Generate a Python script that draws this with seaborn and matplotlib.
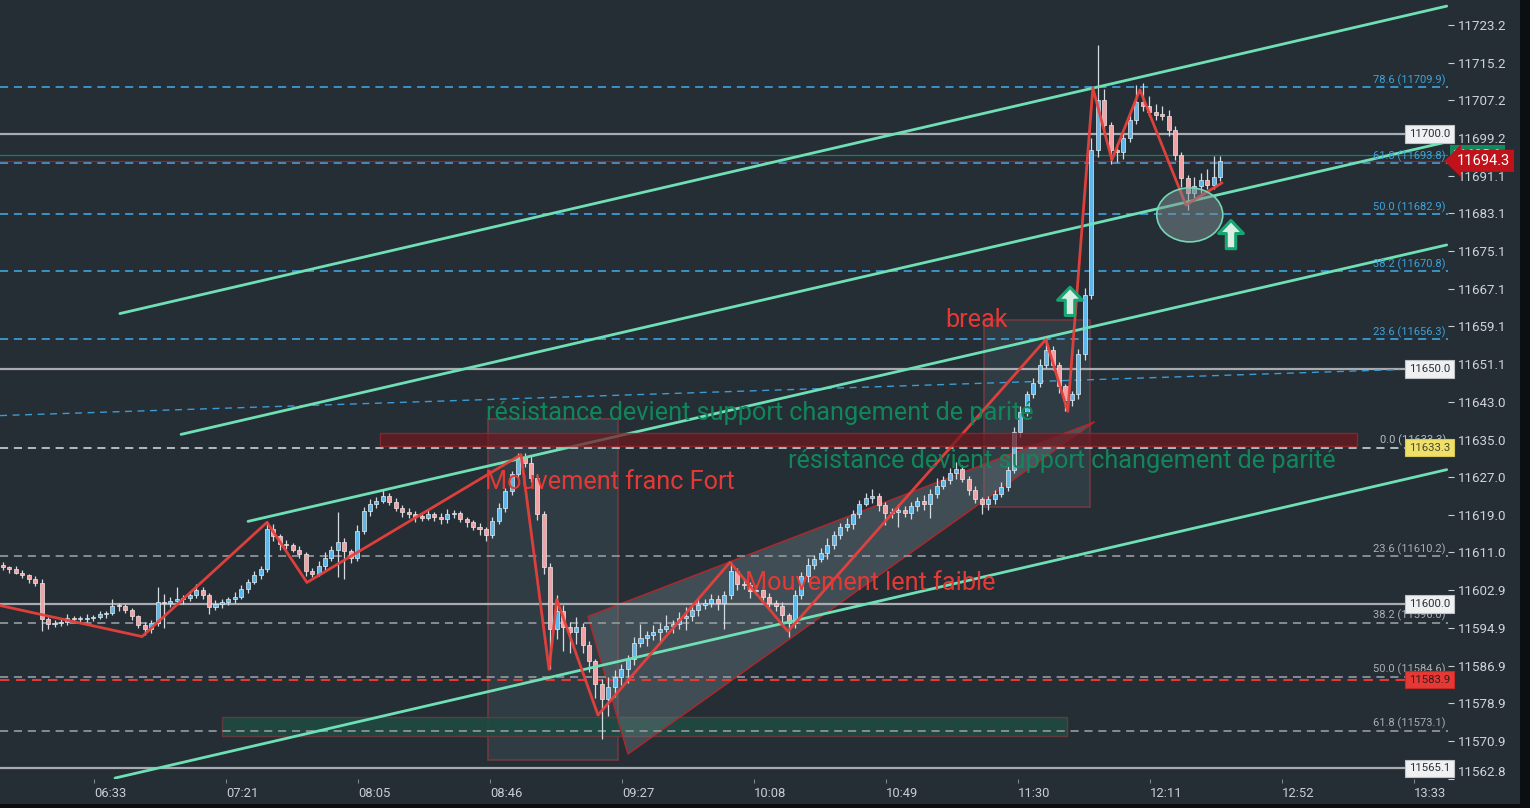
import numpy as np
import pandas as pd
import matplotlib
matplotlib.use("Agg")
import matplotlib.pyplot as plt
import matplotlib.transforms as mtransforms
from matplotlib.patches import Rectangle, Polygon, Ellipse
import seaborn as sns

# ---------------- data ----------------
bar_minutes = 2
first_open = 11608.3
closes = [
    11607.8, 11607.4, 11606.7, 11606.1, 11605.3, 11604.4, 11596.8, 11595.7, 11595.9, 11596.3,
    11597.0, 11596.8, 11596.8, 11597.0, 11597.2, 11597.8, 11598.2, 11599.7, 11599.5, 11598.7,
    11597.4, 11595.5, 11594.6, 11595.9, 11600.4, 11600.2, 11600.6, 11601.0, 11601.2, 11601.9,
    11603.1, 11601.9, 11599.3, 11600.0, 11600.4, 11601.0, 11601.6, 11603.3, 11604.8, 11606.1,
    11607.4, 11615.9, 11614.4, 11612.7, 11612.5, 11611.6, 11610.6, 11607.0, 11606.5, 11608.2,
    11609.9, 11611.6, 11613.3, 11611.2, 11609.9, 11615.5, 11619.7, 11621.2, 11622.0, 11623.1,
    11621.8, 11620.5, 11619.5, 11619.1, 11618.6, 11618.4, 11619.1, 11618.6, 11618.0, 11619.1,
    11619.3, 11618.0, 11617.4, 11616.5, 11615.9, 11614.8, 11617.6, 11620.5, 11624.0, 11627.6,
    11631.2, 11630.1, 11626.9, 11619.1, 11607.8, 11594.6, 11598.5, 11595.1, 11594.0, 11595.1,
    11591.4, 11587.8, 11583.0, 11579.8, 11582.3, 11584.4, 11586.1, 11588.3, 11591.7, 11592.7,
    11593.4, 11594.0, 11594.8, 11595.3, 11595.7, 11597.0, 11597.4, 11598.7, 11599.9, 11600.2,
    11601.0, 11600.2, 11601.9, 11607.0, 11604.2, 11604.0, 11602.7, 11602.9, 11601.6, 11600.2,
    11599.7, 11597.6, 11595.9, 11601.9, 11605.9, 11608.4, 11609.7, 11610.8, 11612.5, 11614.8,
    11616.3, 11617.0, 11619.1, 11621.4, 11622.5, 11623.1, 11621.0, 11619.3, 11619.5, 11620.1,
    11619.3, 11620.8, 11622.0, 11621.4, 11623.5, 11625.2, 11626.5, 11627.8, 11628.8, 11626.7,
    11624.2, 11622.3, 11621.2, 11622.3, 11623.5, 11625.0, 11628.6, 11636.7, 11640.9, 11644.6,
    11647.1, 11650.9, 11654.1, 11650.9, 11646.3, 11643.5, 11644.6, 11653.1, 11665.8, 11696.6,
    11707.3, 11701.9, 11696.6, 11696.2, 11699.2, 11703.0, 11706.8, 11706.0, 11704.7, 11704.1,
    11703.9, 11700.9, 11695.6, 11690.7, 11687.5, 11689.0, 11690.2, 11689.2, 11690.9, 11694.3,
]
upper_wicks = [
    0.6, 0.4, 0.8, 0.5, 0.3, 0.6, 0.9, 0.4, 0.7, 0.5,
    0.8, 0.4, 0.6, 1.0, 0.5, 0.7, 0.4, 1.3, 0.6, 0.5,
    0.4, 0.3, 0.6, 0.8, 3.2, 1.7, 0.9, 2.6, 0.7, 0.8,
    1.1, 0.6, 0.5, 0.8, 0.6, 0.5, 0.9, 0.7, 0.6, 1.0,
    0.8, 1.7, 1.2, 0.6, 0.9, 0.5, 0.7, 0.4, 0.6, 0.9,
    1.1, 0.8, 6.2, 0.7, 0.5, 1.4, 0.9, 1.2, 0.8, 1.3,
    0.6, 0.8, 0.5, 0.9, 0.7, 0.6, 1.0, 0.5, 0.8, 1.2,
    0.7, 0.5, 0.6, 0.4, 0.8, 0.5, 0.9, 1.1, 0.8, 0.7,
    1.0, 0.9, 1.3, 0.8, 0.6, 0.9, 3.5, 1.4, 1.0, 2.2,
    0.8, 0.7, 0.5, 1.0, 2.1, 1.5, 1.2, 0.9, 1.4, 3.0,
    0.8, 1.6, 1.1, 2.4, 0.9, 1.3, 2.0, 1.1, 1.5, 0.8,
    1.2, 1.0, 0.9, 1.9, 0.7, 1.3, 0.8, 1.1, 0.9, 0.7,
    0.6, 0.8, 0.5, 1.1, 0.9, 1.4, 0.7, 1.2, 1.5, 0.8,
    1.0, 1.3, 0.9, 0.7, 1.1, 1.3, 0.6, 0.8, 0.9, 1.2,
    0.7, 1.0, 0.8, 1.3, 0.9, 1.6, 0.8, 1.1, 1.5, 0.7,
    0.6, 0.9, 0.5, 0.8, 0.7, 1.0, 1.4, 0.9, 1.2, 0.8,
    1.1, 1.3, 2.6, 0.9, 0.7, 0.6, 0.8, 1.2, 1.5, 2.5,
    11.7, 2.2, 0.7, 1.5, 1.0, 1.4, 3.7, 4.1, 2.0, 1.6,
    1.8, 1.2, 0.8, 0.6, 0.5, 1.9, 1.4, 2.3, 4.5, 1.0,
]
lower_wicks = [
    0.5, 0.7, 0.4, 0.6, 0.8, 0.5, 2.6, 0.9, 0.6, 0.5,
    0.7, 0.4, 0.8, 0.5, 0.6, 0.4, 0.7, 0.5, 0.9, 0.6,
    0.8, 0.6, 1.2, 0.7, 0.6, 5.2, 0.8, 0.5, 0.9, 0.6,
    0.7, 0.9, 1.5, 0.6, 0.8, 0.5, 0.7, 0.6, 0.9, 0.5,
    0.7, 0.6, 0.9, 1.2, 0.8, 0.6, 0.7, 1.0, 0.8, 0.6,
    0.9, 0.7, 5.9, 5.9, 1.1, 0.8, 0.6, 0.9, 0.7, 0.5,
    0.8, 0.6, 0.9, 0.7, 1.1, 0.8, 0.6, 0.9, 1.0, 0.7,
    0.8, 0.6, 0.9, 0.7, 1.2, 1.4, 0.8, 0.6, 0.9, 0.7,
    0.8, 1.0, 0.9, 1.2, 1.5, 8.5, 2.0, 5.0, 4.5, 2.5,
    1.8, 2.2, 3.0, 8.5, 3.5, 2.0, 1.5, 2.8, 1.2, 0.9,
    1.6, 1.0, 2.3, 0.8, 1.4, 1.1, 2.6, 0.9, 1.2, 1.0,
    0.8, 1.5, 5.6, 0.9, 1.1, 0.7, 1.3, 0.8, 1.0, 0.9,
    1.2, 1.6, 3.0, 1.0, 0.8, 1.2, 0.9, 0.7, 1.1, 0.8,
    0.9, 0.7, 1.0, 0.8, 0.6, 0.9, 1.2, 2.4, 1.0, 3.0,
    0.8, 1.1, 0.9, 1.3, 3.0, 1.0, 0.8, 0.9, 1.2, 0.7,
    1.0, 0.8, 2.0, 1.1, 0.9, 0.7, 1.0, 0.8, 1.2, 0.9,
    0.8, 1.0, 0.7, 1.1, 1.3, 2.5, 1.4, 0.9, 1.2, 1.0,
    1.5, 2.0, 3.0, 2.2, 1.5, 1.0, 0.9, 1.2, 0.8, 1.1,
    0.9, 1.3, 1.1, 2.0, 3.6, 1.2, 1.5, 0.9, 1.0, 0.8,
]

time_tick_pos = [28.3, 69.3, 110.3, 151.3, 192.3, 233.3, 274.3, 315.3, 356.3, 397.3, 438.3]
time_tick_labels = ["06:33", "07:21", "08:05", "08:46", "09:27", "10:08",
                    "10:49", "11:30", "12:11", "12:52", "13:33"]
price_ticks = [11723.2, 11715.2, 11707.2, 11699.2, 11691.1, 11683.1, 11675.1, 11667.1,
               11659.1, 11651.1, 11643.0, 11635.0, 11627.0, 11619.0, 11611.0, 11602.9,
               11594.9, 11586.9, 11578.9, 11570.9, 11562.8]

# zigzag swing points (time in minutes, price)
zigzag_t = [-0.9, 43.2, 82.0, 94.4, 160.9, 169.6, 172.0, 184.8, 225.8, 243.8,
            323.9, 330.7, 338.5, 344.4, 353.1, 367.4, 378.6]
zigzag_p = [11599.7, 11593.1, 11617.4, 11604.6, 11631.8, 11586.1, 11601.0, 11576.4, 11608.9, 11594.2,
            11656.3, 11641.0, 11709.8, 11694.5, 11709.4, 11684.9, 11689.6]

# parallel channel lines: start / end
channel_t0 = [36.3, 55.3, 76.1, 34.8]
channel_p0 = [11661.8, 11636.1, 11617.6, 11563.0]
channel_t1 = [448.4, 448.4, 448.4, 448.4]
channel_p1 = [11727.2, 11698.3, 11676.4, 11628.6]

# sloped blue dashed line
slope_t = [-0.9, 433.9]
slope_p = [11640.1, 11649.9]

fib_blue_levels = [11709.9, 11693.8, 11682.9, 11670.8, 11656.3]
fib_blue_ratios = ["78.6", "61.8", "50.0", "38.2", "23.6"]
fib_grey_levels = [11610.2, 11596.0, 11584.6, 11573.1]
fib_grey_ratios = ["23.6", "38.2", "50.0", "61.8"]
fib_zero_level = 11633.3
round_levels = [11700.0, 11650.0, 11600.0, 11565.1]
red_dashed_level = 11583.9
last_green_price = 11695.6
last_price = 11694.3

# boxes: (t_left, t_right, p_low, p_high)
box_fast = [150.6, 191.0, 11566.8, 11639.3]
box_break = [304.7, 337.6, 11620.6, 11660.5]
band_red = [117.1, 420.5, 11633.7, 11636.5]
band_green = [68.0, 330.4, 11571.9, 11575.9]
wedge_t = [181.7, 194.1, 339.1]
wedge_p = [11597.4, 11568.1, 11638.8]
ellipse_center = (368.6, 11682.8)
ellipse_size = (20.5, 11.5)
arrows_t = [331.4, 381.4]
arrows_p0 = [11661.4, 11675.6]
arrows_p1 = [11667.4, 11681.6]

labels_red = [("break", 292.5, 11660.5), ("Mouvement franc Fort", 149.7, 11625.9),
              ("Mouvement lent faible", 230.4, 11604.4)]
labels_green = [("résistance devient support changement de parité", 150.0, 11640.7),
                ("résistance devient support changement de parité", 243.8, 11630.5)]

# ---------------- style ----------------
BG = "#252e35"
sns.set_theme(style="dark", rc={"axes.facecolor": BG, "figure.facecolor": BG})
plt.rcParams["font.family"] = ["Roboto", "DejaVu Sans"]

fig = plt.figure(figsize=(15.3, 8.08), dpi=100)
fig.patch.set_facecolor(BG)
ax = fig.add_axes([0, 29 / 808, 1448 / 1530, 779 / 808])
ax.set_facecolor(BG)
for s in ax.spines.values():
    s.set_visible(False)
ax.grid(False)
ax.set_xlim(-0.93, 448.8)
ax.set_ylim(11562.96, 11728.5)

# ---- background boxes ----
ax.add_patch(Rectangle((box_fast[0], box_fast[2]), box_fast[1] - box_fast[0], box_fast[3] - box_fast[2],
                       facecolor="#4a5a62", alpha=0.32, edgecolor="none", zorder=1))
ax.add_patch(Rectangle((box_fast[0], box_fast[2]), box_fast[1] - box_fast[0], box_fast[3] - box_fast[2],
                       facecolor="none", edgecolor="#6e3a40", lw=1.2, zorder=1.1))
ax.add_patch(Rectangle((box_break[0], box_break[2]), box_break[1] - box_break[0], box_break[3] - box_break[2],
                       facecolor="#4a5a62", alpha=0.32, edgecolor="none", zorder=1))
ax.add_patch(Rectangle((box_break[0], box_break[2]), box_break[1] - box_break[0], box_break[3] - box_break[2],
                       facecolor="none", edgecolor="#6e3a40", lw=1.2, zorder=1.1))
ax.add_patch(Rectangle((band_green[0], band_green[2]), band_green[1] - band_green[0], band_green[3] - band_green[2],
                       facecolor="#1f4a42", alpha=0.9, edgecolor="#6a3a3e", lw=1.0, zorder=1.2))
ax.add_patch(Polygon(list(zip(wedge_t, wedge_p)), closed=True, facecolor="#6a7a80", alpha=0.42,
                     edgecolor="none", zorder=1.3))
ax.add_patch(Polygon(list(zip(wedge_t, wedge_p)), closed=True, facecolor="none",
                     edgecolor="#b3262a", lw=1.0, zorder=1.4))

# ---- horizontal levels ----
dash = (0, (4.5, 3.2))
for lv in fib_blue_levels:
    ax.axhline(lv, color="#3d9bd3", lw=1.3, ls=dash, zorder=2)
for lv in fib_grey_levels:
    ax.axhline(lv, color="#8d9399", lw=1.3, ls=dash, zorder=2)
ax.axhline(fib_zero_level, color="#b9c8cf", lw=1.3, ls=dash, zorder=2)
for lv in round_levels:
    ax.axhline(lv, color="#a8acb0", lw=1.6, zorder=2)
ax.axhline(red_dashed_level, color="#e53935", lw=1.5, ls=dash, zorder=2)
ax.axhline(last_green_price, color="#17805a", lw=0.9, zorder=2)
ax.axhline(last_price, color="#b3161b", lw=0.9, zorder=2)
sns.lineplot(x=slope_t, y=slope_p, ax=ax, color="#3d9bd3", lw=1.0, linestyle=(0, (5, 4)), zorder=2)

# ---- candles ----
c = np.array(closes)
o = np.array([first_open] + closes[:-1])
hw = np.array(upper_wicks)
lw_ = np.array(lower_wicks)
t = np.arange(len(c)) * bar_minutes
hi = np.maximum(o, c) + hw
lo = np.minimum(o, c) - lw_
up = c >= o
body = np.where(np.abs(c - o) < 0.25, 0.25, np.abs(c - o))
bottom = np.minimum(o, c)
ax.vlines(t, lo, hi, color="#d4dbe0", lw=0.9, zorder=3)
ax.bar(t[up], body[up], bottom=bottom[up], width=1.25, color="#5db7e8",
       edgecolor="#e3edf3", linewidth=0.5, zorder=4)
ax.bar(t[~up], body[~up], bottom=bottom[~up], width=1.25, color="#f0a2a4",
       edgecolor="#f3e6e8", linewidth=0.5, zorder=4)

# ---- channel lines ----
ch = pd.DataFrame({
    "t": channel_t0 + channel_t1,
    "p": channel_p0 + channel_p1,
    "line": list(range(4)) * 2,
})
sns.lineplot(data=ch, x="t", y="p", units="line", estimator=None, ax=ax,
             color="#6fe0b6", lw=2.0, zorder=5)

# ---- zigzag ----
zz = pd.DataFrame({"t": zigzag_t, "p": zigzag_p})
sns.lineplot(data=zz, x="t", y="p", sort=False, estimator=None, ax=ax,
             color="#e8403c", lw=2.0, alpha=0.95, zorder=6)

# ---- red band (on top of lines) ----
ax.add_patch(Rectangle((band_red[0], band_red[2]), band_red[1] - band_red[0], band_red[3] - band_red[2],
                       facecolor="#70161e", alpha=0.7, edgecolor="#a3262c", lw=1.0, zorder=6.5))

# ---- ellipse ----
ax.add_patch(Ellipse(ellipse_center, ellipse_size[0], ellipse_size[1], facecolor="#7c8c92",
                     alpha=0.5, edgecolor="none", zorder=7))
ax.add_patch(Ellipse(ellipse_center, ellipse_size[0], ellipse_size[1], facecolor="none",
                     edgecolor="#76d6b4", lw=1.2, zorder=7.1))

# ---- arrows ----
for at, a0, a1 in zip(arrows_t, arrows_p0, arrows_p1):
    ax.annotate("", xy=(at, a1), xytext=(at, a0),
                arrowprops=dict(arrowstyle="simple,head_length=0.55,head_width=1.05,tail_width=0.4",
                                fc="#d9efe6", ec="#16a672", lw=2.2, mutation_scale=17,
                                shrinkA=0, shrinkB=0), zorder=8)

# ---- text annotations ----
for txt, tx, py in labels_green:
    ax.text(tx, py, txt, color="#11865a", fontsize=18.2, ha="left", va="center", zorder=9)
for txt, tx, py in labels_red:
    ax.text(tx, py, txt, color="#e53935", fontsize=18.2, ha="left", va="center", zorder=9)

# ---- fib labels ----
bt = mtransforms.blended_transform_factory(ax.transAxes, ax.transData)
up_off = mtransforms.offset_copy(bt, fig=fig, x=0, y=5.2, units="points")
for lv, r in zip(fib_blue_levels, fib_blue_ratios):
    ax.text(0.9985, lv, f"{r} ({lv:.1f})", transform=up_off, ha="right", va="center",
            fontsize=8.0, color="#3fa2da", zorder=9)
for lv, r in zip(fib_grey_levels, fib_grey_ratios):
    ax.text(0.9985, lv, f"{r} ({lv:.1f})", transform=up_off, ha="right", va="center",
            fontsize=8.0, color="#a9aeb3", zorder=9)
ax.text(0.9985, fib_zero_level, f"0.0 ({fib_zero_level:.1f})", transform=up_off, ha="right",
        va="center", fontsize=8.0, color="#aebfca", zorder=9)

# ---- right edge level boxes ----
box_kw = dict(transform=bt, ha="right", va="center", fontsize=8.2, zorder=10, clip_on=False)
for lv in round_levels:
    ax.text(1.0015, lv, f"{lv:.1f}", color="#2a2e33",
            bbox=dict(boxstyle="square,pad=0.32", fc="#eef0f2", ec="#bfc3c7", lw=0.8), **box_kw)
ax.text(1.0015, fib_zero_level, f"{fib_zero_level:.1f}", color="#4a4a30",
        bbox=dict(boxstyle="square,pad=0.32", fc="#efe06a", ec="#d8c850", lw=0.8), **box_kw)
ax.text(1.0015, red_dashed_level, f"{red_dashed_level:.1f}", color="#3a1a1a",
        bbox=dict(boxstyle="square,pad=0.32", fc="#e53935", ec="#c62828", lw=0.8), **box_kw)

# ---- price axis ----
ax.yaxis.tick_right()
ax.set_yticks(price_ticks)
ax.set_yticklabels([f"{v:.1f}" for v in price_ticks])
ax.tick_params(axis="y", colors="#c9ced3", labelcolor="#d0d4d8", labelsize=9.6,
               length=4, width=0.8, pad=3, right=True, left=False)
ax.set_xticks(time_tick_pos)
ax.set_xticklabels(time_tick_labels, ha="left")
ax.tick_params(axis="x", colors="#80868c", labelcolor="#c9ced3", labelsize=9.4,
               length=3, width=0.8, pad=3, bottom=True)
for lbl in ax.get_yticklabels():
    if lbl.get_text() == "11562.8":
        lbl.set_va("bottom")
ax.set_xlabel("")
ax.set_ylabel("")

# last price tags on the price scale
ax.text(1.0035, last_green_price, f"{last_green_price:.1f}", transform=bt, ha="left", va="center",
        fontsize=9.6, color="#ffffff", clip_on=False, zorder=11,
        bbox=dict(boxstyle="square,pad=0.25", fc="#0e8a5e", ec="none"))
ax.text(1.0060, last_price, f"{last_price:.1f}", transform=bt, ha="left", va="center",
        fontsize=10.5, color="#ffffff", clip_on=False, zorder=12,
        bbox=dict(boxstyle="larrow,pad=0.28", fc="#c0121a", ec="none"))

# outer dark frame strips
fig.add_artist(Rectangle((1520 / 1530, 0), 10 / 1530, 1, transform=fig.transFigure,
                         facecolor="#0c0f12", edgecolor="none", zorder=20))
fig.add_artist(Rectangle((0, 0), 1, 4 / 808, transform=fig.transFigure,
                         facecolor="#0c0f12", edgecolor="none", zorder=20))

fig.savefig("out.png", dpi=100, facecolor=BG)
